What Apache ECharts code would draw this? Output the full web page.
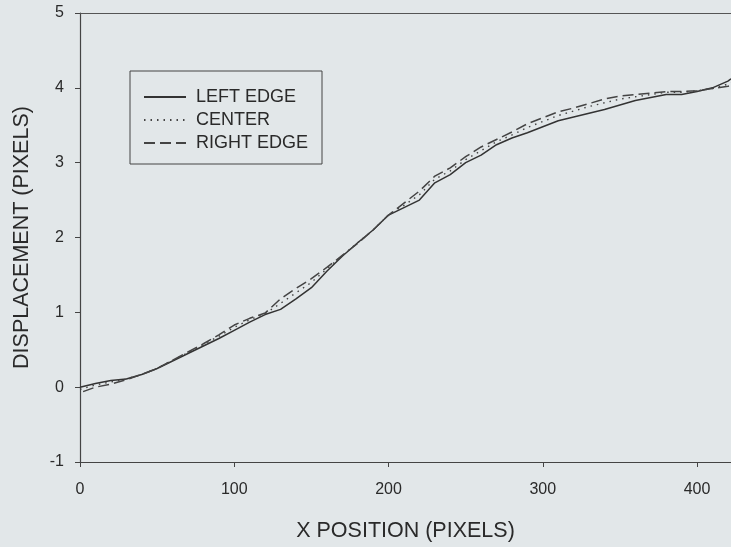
<!DOCTYPE html>
<html>
<head>
<meta charset="utf-8">
<script src="https://cdn.jsdelivr.net/npm/echarts@6/dist/echarts.min.js"></script>
<style>
html,body{margin:0;padding:0;background:#e2e7e9;overflow:hidden;}
#c{width:100vw;height:100vh;}
</style>
</head>
<body>
<div id="c"></div>
<script>
const xPos = [0,10,20,30,40,50,60,70,80,90,100,110,120,130,140,150,160,170,180,190,200,210,220,230,240,250,260,270,280,290,300,310,320,330,340,350,360,370,380,390,400,410,420,422];
const leftEdge = [0.00,0.05,0.09,0.11,0.17,0.25,0.35,0.45,0.55,0.65,0.76,0.87,0.97,1.04,1.18,1.33,1.55,1.75,1.93,2.10,2.30,2.40,2.50,2.73,2.84,3.00,3.10,3.24,3.33,3.40,3.48,3.56,3.61,3.66,3.71,3.77,3.83,3.87,3.91,3.91,3.95,4.00,4.09,4.12];
const center = [-0.03,0.03,0.07,0.11,0.17,0.25,0.36,0.46,0.57,0.68,0.80,0.90,0.98,1.12,1.26,1.40,1.58,1.76,1.93,2.10,2.30,2.43,2.57,2.78,2.89,3.04,3.16,3.28,3.37,3.47,3.55,3.63,3.69,3.75,3.80,3.85,3.88,3.91,3.94,3.94,3.96,3.99,4.05,4.07];
const rightEdgeX = [2,10,20,30,40,50,60,70,80,90,100,110,120,130,140,150,160,170,180,190,200,210,220,230,240,250,260,270,280,290,300,310,320,330,340,350,360,370,380,390,400,410,420,422];
const rightEdge = [-0.06,0.00,0.04,0.10,0.17,0.25,0.36,0.47,0.58,0.70,0.83,0.92,0.99,1.18,1.32,1.45,1.60,1.76,1.92,2.10,2.30,2.46,2.62,2.82,2.93,3.08,3.21,3.31,3.41,3.52,3.60,3.68,3.73,3.79,3.85,3.89,3.91,3.93,3.95,3.95,3.96,3.99,4.02,4.03];
const seriesNames = ['LEFT EDGE','CENTER','RIGHT EDGE'];
const xTitle = 'X POSITION (PIXELS)';
const yTitle = 'DISPLACEMENT (PIXELS)';

function pairs(xs, ys){ return xs.map((x,i)=>[x, ys[i]]); }

const font = 'Liberation Sans, Arial, sans-serif';
const ink = '#2a2a2a';
const chart = echarts.init(document.getElementById('c'), null, {renderer:'canvas'});
chart.setOption({
  backgroundColor:'#e2e7e9',
  animation:false,
  grid:{left:80, right:0, top:13, bottom:80, containLabel:false},
  legend:{
    orient:'vertical', left:130, top:71,
    data:seriesNames,
    backgroundColor:'transparent',
    borderColor:'#444', borderWidth:1,
    padding:[17,14,12,13],
    itemWidth:42, itemHeight:14, itemGap:5,
    itemStyle:{opacity:0},
    textStyle:{fontFamily:font, fontSize:18, color:ink, padding:[0,0,0,5]}
  },
  xAxis:[{
    type:'value', min:0, max:422, interval:100, position:'bottom',
    name:xTitle, nameLocation:'middle', nameGap:58,
    nameTextStyle:{fontFamily:font, fontSize:21.5, color:ink, verticalAlign:'top'},
    axisLine:{show:true, onZero:false, lineStyle:{color:'#444', width:1.2}},
    axisTick:{show:true, inside:false, length:5, lineStyle:{color:'#444'}},
    axisLabel:{fontFamily:font, fontSize:16, color:ink, margin:20, showMaxLabel:false},
    splitLine:{show:false}
  },{
    type:'value', min:0, max:422, position:'top',
    axisLine:{show:true, onZero:false, lineStyle:{color:'#555', width:1.2}},
    axisTick:{show:false}, axisLabel:{show:false}, splitLine:{show:false}
  }],
  yAxis:{
    type:'value', min:-1, max:5, interval:1,
    name:yTitle, nameLocation:'middle', nameGap:47,
    nameTextStyle:{fontFamily:font, fontSize:21.5, color:ink},
    axisLine:{show:true, onZero:false, lineStyle:{color:'#444', width:1.2}},
    axisTick:{show:true, inside:false, length:5, lineStyle:{color:'#444'}},
    axisLabel:{fontFamily:font, fontSize:16, color:ink, margin:16},
    splitLine:{show:false}
  },
  series:[
    {name:seriesNames[0], type:'line', data:pairs(xPos,leftEdge), symbol:'none', smooth:false,
     lineStyle:{color:'#333', width:1.5, type:'solid'}, itemStyle:{color:'#333'}},
    {name:seriesNames[1], type:'line', data:pairs(xPos,center), symbol:'none', smooth:false,
     lineStyle:{color:'#444', width:1.4, type:[1.5,5]}, itemStyle:{color:'#444'}},
    {name:seriesNames[2], type:'line', data:pairs(rightEdgeX,rightEdge), symbol:'none', smooth:false,
     lineStyle:{color:'#444', width:1.5, type:[11,5]}, itemStyle:{color:'#444'}}
  ]
});
</script>
</body>
</html>
